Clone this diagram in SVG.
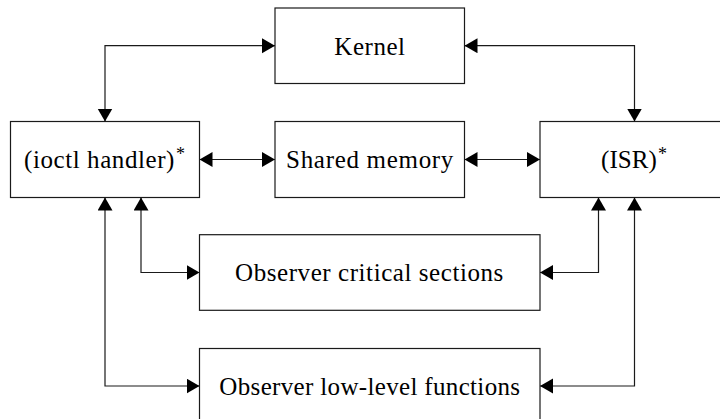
<svg xmlns="http://www.w3.org/2000/svg" width="720" height="419" viewBox="0 0 720 419">
  <style>
    .box { fill: #ffffff; stroke: #1a1a1a; stroke-width: 1.2; }
    .lbl { font-family: "Liberation Serif", "Times New Roman", serif; font-size: 25px; fill: #000; text-anchor: middle; }
    .sup { font-size: 18px; }
    .conn { fill: none; stroke: #1a1a1a; stroke-width: 1.2; marker-start: url(#arr); marker-end: url(#arr); }
  </style>
  <defs>
    <marker id="arr" markerUnits="userSpaceOnUse" markerWidth="14" markerHeight="16" refX="13" refY="7.5" orient="auto-start-reverse" viewBox="0 0 14 16">
      <path d="M0,0 L13,7.5 L0,15 Z" fill="#000"/>
    </marker>
  </defs>
  <rect width="720" height="419" fill="#ffffff"/>

  <g id="connectors">
    <path class="conn" d="M275,45.7 H105 V121.5"/>
    <path class="conn" d="M464.5,45.7 H634.5 V121.5"/>
    <path class="conn" d="M199.5,159.5 H275"/>
    <path class="conn" d="M464.5,159.5 H540"/>
    <path class="conn" d="M141,197.5 V272.5 H199.5"/>
    <path class="conn" d="M105,197.5 V386 H199.5"/>
    <path class="conn" d="M598.5,197.5 V272.5 H540"/>
    <path class="conn" d="M634.5,197.5 V386 H540"/>
  </g>

  <g id="kernel">
    <rect class="box" x="275" y="8" width="189.5" height="75.5"/>
    <text class="lbl" x="369.7" y="54.5" textLength="70.7" lengthAdjust="spacing">Kernel</text>
  </g>
  <g id="ioctl">
    <rect class="box" x="10.5" y="121.5" width="189" height="76"/>
    <text class="lbl" x="104.5" y="168.3" textLength="161" lengthAdjust="spacing">(ioctl handler)<tspan class="sup" dx="1" dy="-8">*</tspan></text>
  </g>
  <g id="shared">
    <rect class="box" x="275" y="121.5" width="189.5" height="76"/>
    <text class="lbl" x="369.7" y="168.3" textLength="167.3" lengthAdjust="spacing">Shared memory</text>
  </g>
  <g id="isr">
    <rect class="box" x="540" y="121.5" width="189" height="76"/>
    <text class="lbl" x="634" y="168.3" textLength="66" lengthAdjust="spacing">(ISR)<tspan class="sup" dx="1" dy="-8">*</tspan></text>
  </g>
  <g id="critical">
    <rect class="box" x="199.5" y="234.7" width="340.5" height="75.6"/>
    <text class="lbl" x="369.2" y="281.2" textLength="268.3" lengthAdjust="spacing">Observer critical sections</text>
  </g>
  <g id="lowlevel">
    <rect class="box" x="199.5" y="348.5" width="340.5" height="75.6"/>
    <text class="lbl" x="369.7" y="394.7" textLength="300.7" lengthAdjust="spacing">Observer low-level functions</text>
  </g>
</svg>
